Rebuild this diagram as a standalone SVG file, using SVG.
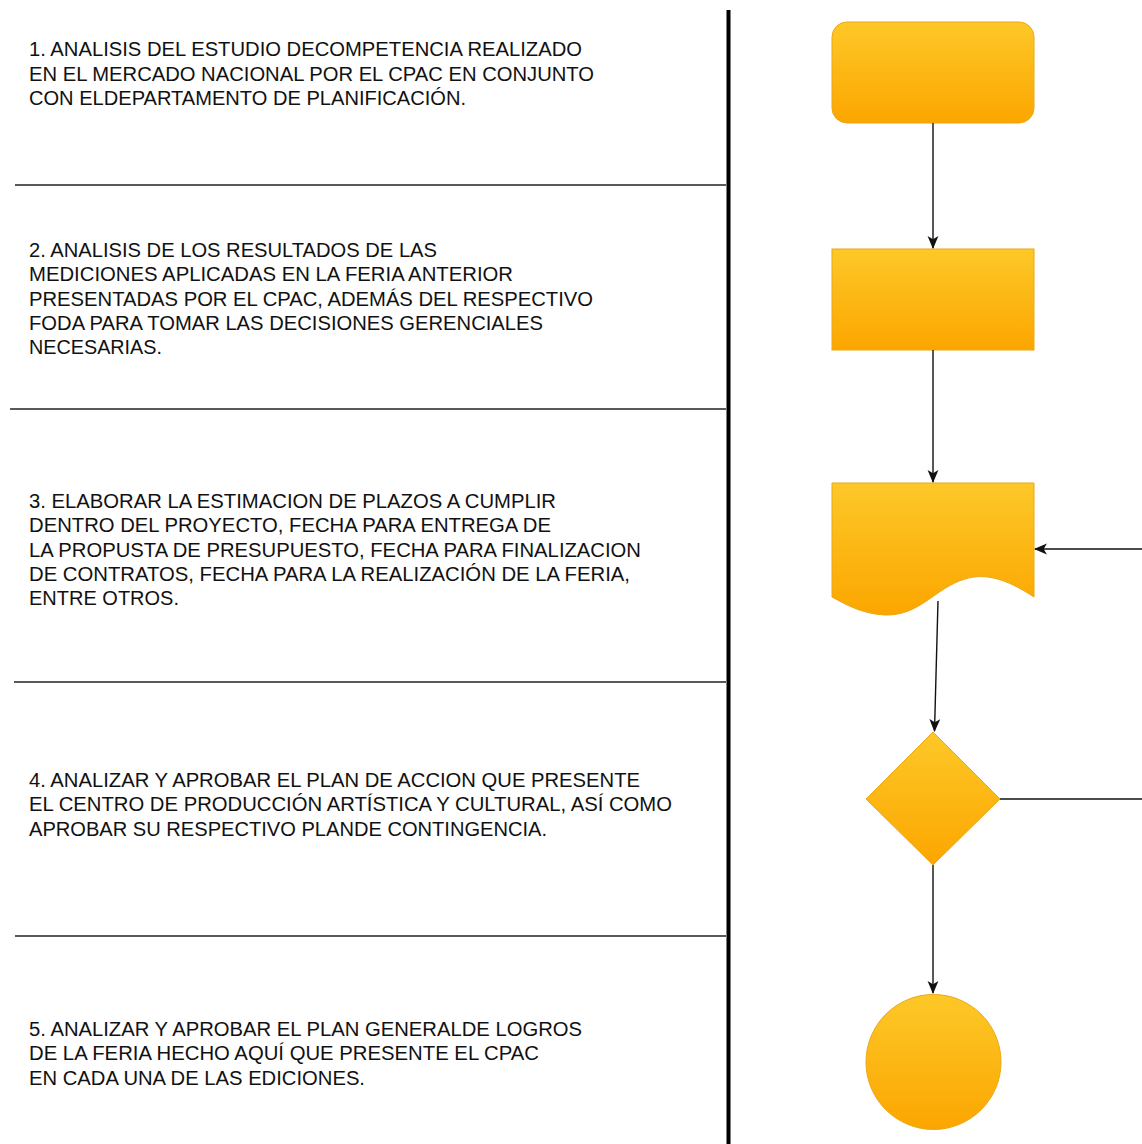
<svg xmlns="http://www.w3.org/2000/svg" width="1142" height="1144" viewBox="0 0 1142 1144">
  <style>
    .lbl { font-family: "Liberation Sans", Arial, Helvetica, sans-serif; font-size: 19.5px; fill: #111; }
    .sep { stroke: #222; stroke-width: 1.6; fill: none; }
    .shape { fill: url(#gold); stroke: #eaa814; stroke-width: 1; }
    .conn { stroke: #111; stroke-width: 1.4; fill: none; }
  </style>
  <defs>
    <linearGradient id="gold" x1="0" y1="0" x2="0" y2="1">
      <stop offset="0" stop-color="#fdc828"/>
      <stop offset="1" stop-color="#fca600"/>
    </linearGradient>
    <marker id="arrow" viewBox="0 0 12 12" refX="11" refY="6" markerWidth="13" markerHeight="13" markerUnits="userSpaceOnUse" orient="auto">
      <path d="M0,1 L12,6 L0,11 L3,6 Z" fill="#111"/>
    </marker>
  </defs>

  <rect width="1142" height="1144" fill="#ffffff"/>

  <!-- lane divider and row separators -->
  <g id="lanes">
    <line x1="728.5" y1="10" x2="728.5" y2="1144" stroke="#000" stroke-width="4"/>
    <line class="sep" x1="15" y1="185" x2="726" y2="185"/>
    <line class="sep" x1="10" y1="409" x2="726" y2="409"/>
    <line class="sep" x1="14" y1="682" x2="726" y2="682"/>
    <line class="sep" x1="15" y1="936" x2="726" y2="936"/>
  </g>

  <!-- step descriptions -->
  <g id="step1-text">
    <text class="lbl" x="29" y="56" textLength="553" lengthAdjust="spacingAndGlyphs">1. ANALISIS DEL ESTUDIO DECOMPETENCIA REALIZADO</text>
    <text class="lbl" x="29" y="80.5" textLength="565" lengthAdjust="spacingAndGlyphs">EN EL MERCADO NACIONAL POR EL CPAC EN CONJUNTO</text>
    <text class="lbl" x="29" y="105" textLength="437" lengthAdjust="spacingAndGlyphs">CON ELDEPARTAMENTO DE PLANIFICACIÓN.</text>
  </g>
  <g id="step2-text">
    <text class="lbl" x="29" y="257" textLength="408" lengthAdjust="spacingAndGlyphs">2. ANALISIS DE LOS RESULTADOS DE LAS</text>
    <text class="lbl" x="29" y="281" textLength="484" lengthAdjust="spacingAndGlyphs">MEDICIONES APLICADAS EN LA FERIA ANTERIOR</text>
    <text class="lbl" x="29" y="306" textLength="564" lengthAdjust="spacingAndGlyphs">PRESENTADAS POR EL CPAC, ADEMÁS DEL RESPECTIVO</text>
    <text class="lbl" x="29" y="330" textLength="514" lengthAdjust="spacingAndGlyphs">FODA PARA TOMAR LAS DECISIONES GERENCIALES</text>
    <text class="lbl" x="29" y="354" textLength="133" lengthAdjust="spacingAndGlyphs">NECESARIAS.</text>
  </g>
  <g id="step3-text">
    <text class="lbl" x="29" y="508" textLength="527" lengthAdjust="spacingAndGlyphs">3. ELABORAR LA ESTIMACION DE PLAZOS A CUMPLIR</text>
    <text class="lbl" x="29" y="532" textLength="522" lengthAdjust="spacingAndGlyphs">DENTRO DEL PROYECTO, FECHA PARA ENTREGA DE</text>
    <text class="lbl" x="29" y="557" textLength="612" lengthAdjust="spacingAndGlyphs">LA PROPUSTA DE PRESUPUESTO, FECHA PARA FINALIZACION</text>
    <text class="lbl" x="29" y="581" textLength="601" lengthAdjust="spacingAndGlyphs">DE CONTRATOS, FECHA PARA LA REALIZACIÓN DE LA FERIA,</text>
    <text class="lbl" x="29" y="605" textLength="150" lengthAdjust="spacingAndGlyphs">ENTRE OTROS.</text>
  </g>
  <g id="step4-text">
    <text class="lbl" x="29" y="787" textLength="611" lengthAdjust="spacingAndGlyphs">4. ANALIZAR Y APROBAR EL PLAN DE ACCION QUE PRESENTE</text>
    <text class="lbl" x="29" y="811" textLength="643" lengthAdjust="spacingAndGlyphs">EL CENTRO DE PRODUCCIÓN ARTÍSTICA Y CULTURAL, ASÍ COMO</text>
    <text class="lbl" x="29" y="836" textLength="518" lengthAdjust="spacingAndGlyphs">APROBAR SU RESPECTIVO PLANDE CONTINGENCIA.</text>
  </g>
  <g id="step5-text">
    <text class="lbl" x="29" y="1036" textLength="553" lengthAdjust="spacingAndGlyphs">5. ANALIZAR Y APROBAR EL PLAN GENERALDE LOGROS</text>
    <text class="lbl" x="29" y="1060" textLength="510" lengthAdjust="spacingAndGlyphs">DE LA FERIA HECHO AQUÍ QUE PRESENTE EL CPAC</text>
    <text class="lbl" x="29" y="1085" textLength="336" lengthAdjust="spacingAndGlyphs">EN CADA UNA DE LAS EDICIONES.</text>
  </g>

  <!-- flowchart nodes -->
  <g id="node-start">
    <rect class="shape" x="832" y="22" width="202" height="101" rx="15" ry="15"/>
  </g>
  <g id="node-process">
    <rect class="shape" x="832" y="249" width="202" height="101"/>
  </g>
  <g id="node-document">
    <path class="shape" d="M832,483 L1034,483 L1034,597 C1005,578 985,573 965,579 C935,588 920,616 885,615 C862,614 845,604 832,597 Z"/>
  </g>
  <g id="node-decision">
    <polygon class="shape" points="933,732 1000,799 933,865 866,799"/>
  </g>
  <g id="node-end">
    <circle class="shape" cx="933.5" cy="1062" r="67.5"/>
  </g>

  <!-- connectors -->
  <g id="connectors">
    <line class="conn" x1="933" y1="123" x2="933" y2="248" marker-end="url(#arrow)"/>
    <line class="conn" x1="933" y1="350" x2="933" y2="482" marker-end="url(#arrow)"/>
    <line class="conn" x1="938" y1="601" x2="934.5" y2="731" marker-end="url(#arrow)"/>
    <line class="conn" x1="1142" y1="549" x2="1035" y2="549" marker-end="url(#arrow)"/>
    <line class="conn" x1="1000" y1="799" x2="1142" y2="799"/>
    <line class="conn" x1="933" y1="865" x2="933" y2="993" marker-end="url(#arrow)"/>
  </g>
</svg>
